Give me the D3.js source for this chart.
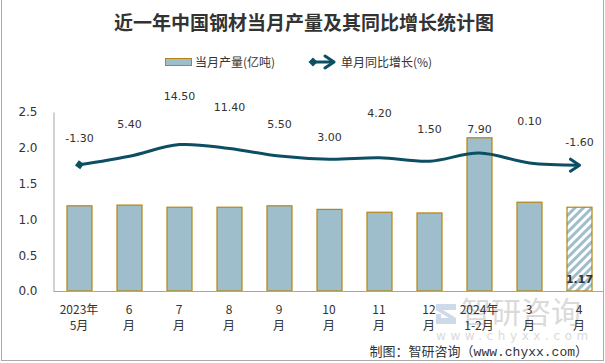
<!DOCTYPE html>
<html>
<head>
<meta charset="utf-8">
<script src="https://cdn.jsdelivr.net/npm/d3@7"></script>
<style>
  body { margin: 0; background: #fff; }
  svg { display: block; }
</style>
</head>
<body>
<div id="chart"></div>
<script>
// data
const months = ["2023年|5月", "6|月", "7|月", "8|月", "9|月", "10|月", "11|月", "12|月", "2024年|1-2月", "3|月", "4|月"];
const output = [1.19, 1.20, 1.17, 1.17, 1.19, 1.14, 1.10, 1.09, 2.14, 1.24, 1.17];
const growth = [-1.30, 5.40, 14.50, 11.40, 5.50, 3.00, 4.20, 1.50, 7.90, 0.10, -1.60];
const yTicks = [0, 0.5, 1.0, 1.5, 2.0, 2.5];

const width = 605, height = 363;
const plotLeft = 54, plotRight = 604, plotTop = 112, plotBottom = 291;
const lineColor = "#0c4e64";
const barFill = "#9fbecb";
const barStroke = "#b5850f";
const cjk = "'Noto Sans CJK SC', sans-serif";
const num = "'DejaVu Sans', sans-serif";
const fmt2 = d3.formatLocale({decimal: ".", thousands: ",", grouping: [3], currency: ["", ""], minus: "-"}).format(".2f");

// how far each growth label sits above its point (as in the source)
const labelLift = [27, 32, 49, 42, 32, 22, 45, 32, 24, 42, 23];

const svg = d3.select("#chart").append("svg")
    .attr("width", width)
    .attr("height", height);

const defs = svg.append("defs");
const hatch = defs.append("pattern")
    .attr("id", "hatch")
    .attr("patternUnits", "userSpaceOnUse")
    .attr("width", 6).attr("height", 6)
    .attr("patternTransform", "rotate(45)");
hatch.append("rect").attr("width", 6).attr("height", 6).attr("fill", "#fff");
hatch.append("rect").attr("width", 3).attr("height", 6).attr("fill", barFill);

defs.append("marker")
    .attr("id", "diamond")
    .attr("viewBox", "-5 -5 10 10")
    .attr("markerUnits", "userSpaceOnUse")
    .attr("markerWidth", 10).attr("markerHeight", 10)
    .attr("orient", "auto")
  .append("path")
    .attr("d", "M-4.5,0L0,-4.5L4.5,0L0,4.5Z")
    .attr("fill", lineColor);

defs.append("marker")
    .attr("id", "arrow")
    .attr("viewBox", "-12 -8 14 16")
    .attr("markerUnits", "userSpaceOnUse")
    .attr("markerWidth", 14).attr("markerHeight", 16)
    .attr("orient", "auto")
  .append("path")
    .attr("d", "M-9,-6L0,0L-9,6")
    .attr("fill", "none")
    .attr("stroke", lineColor)
    .attr("stroke-width", 3)
    .attr("stroke-linecap", "round")
    .attr("stroke-linejoin", "round");

// frame
svg.append("rect")
    .attr("x", 1.5).attr("y", -2)
    .attr("width", width - 3).attr("height", height - 0.5)
    .attr("fill", "none")
    .attr("stroke", "#aaaaaa");

// title
svg.append("text")
    .attr("x", 304).attr("y", 30)
    .attr("text-anchor", "middle")
    .style("font", `bold 19px ${cjk}`)
    .attr("fill", "#333")
    .text("近一年中国钢材当月产量及其同比增长统计图");

// legend
const lg = svg.append("g").style("font", `12px ${cjk}`).attr("fill", "#333");
lg.append("rect")
    .attr("x", 165.5).attr("y", 58.5).attr("width", 26).attr("height", 7)
    .attr("fill", barFill).attr("stroke", barStroke);
lg.append("text").attr("x", 195).attr("y", 66.5).text("当月产量(亿吨)");
lg.append("line")
    .attr("x1", 313).attr("y1", 62).attr("x2", 334).attr("y2", 62)
    .attr("stroke", lineColor).attr("stroke-width", 3)
    .attr("marker-start", "url(#diamond)")
    .attr("marker-end", "url(#arrow)");
lg.append("text").attr("x", 341).attr("y", 66.5).text("单月同比增长(%)");

// scales
const x = d3.scaleBand()
    .domain(months)
    .range([plotLeft, plotRight])
    .paddingInner(0.5)
    .paddingOuter(0.25);
const y = d3.scaleLinear().domain([0, 2.5]).range([plotBottom, plotTop]);
const y2 = d3.scaleLinear().domain([-100, 40]).range([plotBottom, plotTop]);

// watermark
const wm = svg.append("g").attr("opacity", 0.8);
wm.append("path")
    .attr("d", "M436,304h20v6h-13l13,8v6h-20v-6h13l-13,-8z")
    .attr("fill", "#c3d0e6");
wm.append("rect").attr("x", 436).attr("y", 314).attr("width", 5).attr("height", 10).attr("fill", "#c3d0e6");
wm.append("text")
    .attr("x", 461).attr("y", 323)
    .style("font", `30px ${cjk}`)
    .attr("fill", "#d2d2d2")
    .text("智研咨询");
wm.append("text")
    .attr("x", 436).attr("y", 340)
    .style("font", `12px ${num}`)
    .attr("letter-spacing", "4.6px")
    .attr("fill", "#d2d2d2")
    .text("www.chyxx.com");

// y axis
const yAxis = svg.append("g")
    .attr("transform", `translate(${plotLeft - 0.5},0)`)
    .call(d3.axisLeft(y).tickValues(yTicks).tickFormat(d3.format(".1f")).tickSize(0).tickPadding(16));
yAxis.select(".domain").attr("stroke", "#a6a6a6");
yAxis.selectAll("text").style("font", `12px ${num}`).attr("fill", "#333");

// bars
svg.append("g")
    .selectAll("rect")
    .data(output)
    .join("rect")
    .attr("x", (d, i) => x(months[i]) + 0.5)
    .attr("y", d => y(d))
    .attr("width", x.bandwidth())
    .attr("height", d => y(0) - y(d))
    .attr("fill", (d, i) => i === output.length - 1 ? "url(#hatch)" : barFill)
    .attr("stroke", barStroke)
    .attr("stroke-width", 1.2);

// x axis baseline
svg.append("line")
    .attr("x1", plotLeft - 0.5).attr("x2", plotRight)
    .attr("y1", y(0) + 0.5).attr("y2", y(0) + 0.5)
    .attr("stroke", "#a6a6a6");

// x labels (two rows)
const xl = svg.append("g").style("font", `12px ${cjk}`).attr("fill", "#333");
months.forEach(m => {
    const parts = m.split("|");
    const cxm = x(m) + x.bandwidth() / 2;
    const t = xl.append("text").attr("text-anchor", "middle");
    t.append("tspan").attr("x", cxm).attr("y", 313.5).text(parts[0]);
    t.append("tspan").attr("x", cxm).attr("y", 330).text(parts[1]);
});

// last bar value
const li = output.length - 1;
svg.append("text")
    .attr("x", x(months[li]) + x.bandwidth() / 2 + 0.5)
    .attr("y", plotBottom - 8)
    .attr("text-anchor", "middle")
    .style("font", `bold 11px ${num}`)
    .attr("fill", "#333")
    .text(fmt2(output[li]));

// growth line
const cx = i => x(months[i]) + x.bandwidth() / 2 + 0.5;
const line = d3.line()
    .x((d, i) => cx(i))
    .y(d => y2(d))
    .curve(d3.curveCatmullRom.alpha(0.5));

svg.append("path")
    .datum(growth)
    .attr("d", line)
    .attr("fill", "none")
    .attr("stroke", lineColor)
    .attr("stroke-width", 3)
    .attr("marker-start", "url(#diamond)")
    .attr("marker-end", "url(#arrow)");

svg.append("g")
    .selectAll("text")
    .data(growth)
    .join("text")
    .attr("x", (d, i) => cx(i))
    .attr("y", (d, i) => y2(d) - labelLift[i] + 4)
    .attr("text-anchor", "middle")
    .style("font", `11px ${num}`)
    .attr("fill", "#333")
    .text(d => fmt2(d));

// source note
svg.append("text")
    .attr("x", 588).attr("y", 356)
    .attr("text-anchor", "end")
    .style("font", `13px 'Liberation Mono', ${cjk}`)
    .attr("fill", "#333")
    .text("制图：智研咨询（www.chyxx.com）");
</script>
</body>
</html>
